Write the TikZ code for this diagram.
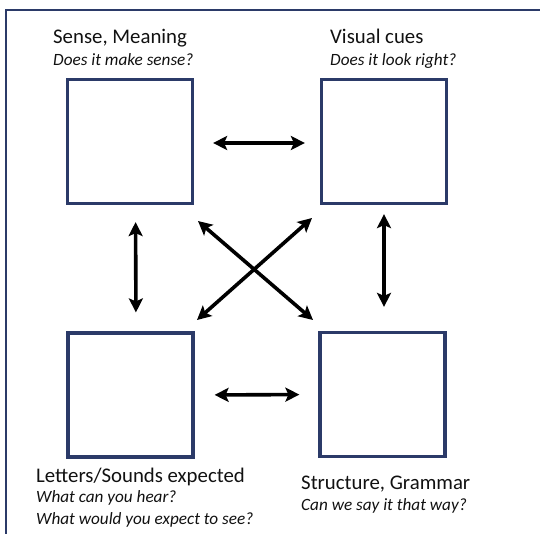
\documentclass[tikz,border=0pt]{standalone}
\usepackage{fontspec}
\setmainfont{Carlito}
\usetikzlibrary{arrows.meta}
\definecolor{navy}{HTML}{2B3A68}
\definecolor{txt}{HTML}{111111}
\tikzset{
  cuebox/.style={draw=navy, line width=3.2pt, fill=white, minimum width=125pt, minimum height=124pt, inner sep=0pt},
  title/.style={anchor=base west, inner sep=0pt, text=txt, font=\fontsize{20.8}{24}\selectfont},
  question/.style={anchor=base west, inner sep=0pt, text=txt, font=\fontsize{17.2}{20}\selectfont\itshape},
  link/.style={line width=3.6pt, black, {Stealth[length=14pt,width=14pt,inset=3pt]}-{Stealth[length=14pt,width=14pt,inset=3pt]}}
}
\begin{document}
\begin{tikzpicture}[x=1pt,y=-1pt]
\useasboundingbox (0,0) rectangle (540,533);
% outer frame
\draw[navy, line width=2.6pt] (6,534) -- (6,10) -- (541,10);
% boxes
\node[cuebox] (tl) at (130,141.5) {};
\node[cuebox] (tr) at (384,141.5) {};
\node[cuebox] (bl) at (130.5,395) {};
\node[cuebox] (br) at (382.5,394.5) {};
% labels
\node[title] (t1) at (53,43) {Sense, Meaning};
\node[question] (q1) at (53,65) {Does it make sense?};
\node[title] (t2) at (330,43) {Visual cues};
\node[question] (q2) at (330,65) {Does it look right?};
\node[title] (t3) at (36,482) {Letters/Sounds expected};
\node[question] (q3) at (36,502) {What can you hear?};
\node[question] (q4) at (36,524) {What would you expect to see?};
\node[title] (t4) at (301,489) {Structure, Grammar};
\node[question] (q5) at (301,510) {Can we say it that way?};
% connectors
\draw[link, shorten <=19pt, shorten >=15pt] ([yshift=-1.5pt]tl.east) -- ([yshift=-1.5pt]tr.west);
\draw[link, shorten <=20pt, shorten >=19pt] (bl.east) -- (br.west);
\draw[link, shorten <=17pt, shorten >=19pt] ([xshift=5.5pt]tl.south) -- ([xshift=5.5pt]bl.north);
\draw[link, shorten <=9pt, shorten >=24pt] (tr.south) -- ([xshift=1.5pt]br.north);
\coordinate (d1a) at (198,221);
\coordinate (d1b) at (313,320);
\coordinate (d2a) at (312,218);
\coordinate (d2b) at (197,320);
\draw[link] (d1a) -- (d1b);
\draw[link] (d2a) -- (d2b);
\end{tikzpicture}
\end{document}
